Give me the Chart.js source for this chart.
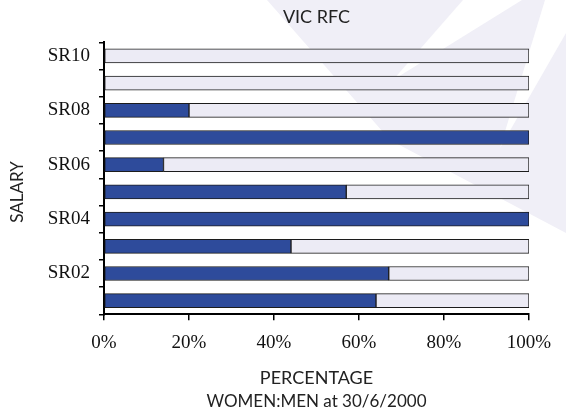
<!DOCTYPE html>
<html>
<head>
<meta charset="utf-8">
<title>VIC RFC</title>
<script src="https://cdn.jsdelivr.net/npm/chart.js@4.4.1/dist/chart.umd.min.js"></script>
<style>
    html, body { margin: 0; padding: 0; background: #fff; }
</style>
</head>
<body>
<canvas id="chart" width="566" height="412"></canvas>
<script>
// salary grades, bottom to top
const grades = ['SR01', 'SR02', 'SR03', 'SR04', 'SR05', 'SR06', 'SR07', 'SR08', 'SR09', 'SR10'];
const womenPct = [64, 67, 44, 100, 57, 14, 100, 20, 0, 0];
const menPct = [36, 33, 56, 0, 43, 86, 0, 80, 100, 100];
const pctTicks = [0, 20, 40, 60, 80, 100];

const sans = 'Lato, "Open Sans", sans-serif';
const serif = '"Liberation Serif", "DejaVu Serif", serif';

// faint logo shapes behind the plot
const watermark = {
    id: 'watermark',
    beforeDraw(chart) {
        const ctx = chart.ctx;
        const poly = (pts, fill) => {
            ctx.beginPath();
            pts.forEach(([x, y], i) => (i ? ctx.lineTo(x, y) : ctx.moveTo(x, y)));
            ctx.closePath();
            ctx.fillStyle = fill;
            ctx.fill();
        };
        ctx.save();
        poly([[267, 0], [566, 0], [566, 233], [390, 140]], '#F0EFF7');
        poly([[463, 0], [522, 0], [393, 80]], '#fff');
        poly([[545, 0], [566, 0], [566, 33], [500, 148]], '#fff');
        ctx.restore();
    },
};

// y-axis title sits a little below the axis middle in the original
const salaryTitle = {
    id: 'salaryTitle',
    afterDraw(chart) {
        const ctx = chart.ctx;
        ctx.save();
        ctx.translate(18, 192);
        ctx.rotate(-Math.PI / 2);
        ctx.font = '17px ' + sans;
        ctx.fillStyle = '#222';
        ctx.textAlign = 'center';
        ctx.textBaseline = 'middle';
        ctx.fillText('SALARY', 0, 0);
        ctx.restore();
    },
};

const barStyle = {
    borderColor: '#1c1c1c',
    borderWidth: 1,
    borderSkipped: false,
    barThickness: 14,
};

new Chart(document.getElementById('chart'), {
    type: 'bar',
    data: {
        labels: grades,
        datasets: [
            { label: 'Women', data: womenPct, backgroundColor: '#2E4B9B', ...barStyle },
            { label: 'Men', data: menPct, backgroundColor: '#ECEBF5', ...barStyle },
        ],
    },
    options: {
        indexAxis: 'y',
        responsive: false,
        animation: false,
        layout: { padding: { left: 0, right: 37, top: 0, bottom: 0 } },
        scales: {
            x: {
                stacked: true,
                min: 0,
                max: 100,
                afterBuildTicks: (s) => {
                    s.ticks = pctTicks.map((v) => ({ value: v }));
                },
                afterFit: (s) => {
                    s.height = 76.3;
                },
                border: { color: '#000', width: 2 },
                grid: { drawOnChartArea: false, tickLength: 6, color: '#000', lineWidth: 1.5 },
                ticks: {
                    padding: 11,
                    color: '#111',
                    font: { family: serif, size: 19 },
                    callback: (v) => v + '%',
                },
                title: {
                    display: true,
                    text: 'PERCENTAGE',
                    color: '#222',
                    font: { family: sans, size: 18 },
                    padding: { top: 10, bottom: 1.8 },
                },
            },
            y: {
                stacked: true,
                reverse: true,
                afterFit: (s) => {
                    s.width = 104;
                },
                border: { color: '#000', width: 2 },
                grid: { drawOnChartArea: false, tickLength: 5, color: '#000', lineWidth: 1.5 },
                ticks: {
                    autoSkip: false,
                    padding: 9,
                    color: '#111',
                    font: { family: serif, size: 19 },
                    callback: (v) => ((v + 1) % 2 === 0 ? grades[v] : ''),
                },
            },
        },
        plugins: {
            legend: { display: false },
            tooltip: { enabled: false },
            title: {
                display: true,
                text: 'VIC RFC',
                fullSize: false,
                color: '#222',
                font: { family: sans, size: 18, weight: 'normal' },
                padding: { top: 6, bottom: 14.7 },
            },
            subtitle: {
                display: true,
                text: 'WOMEN:MEN at 30/6/2000',
                position: 'bottom',
                fullSize: false,
                color: '#222',
                font: { family: sans, size: 17, weight: 'normal' },
                padding: { top: 1, bottom: 0 },
            },
        },
    },
    plugins: [watermark, salaryTitle],
});
</script>
</body>
</html>
